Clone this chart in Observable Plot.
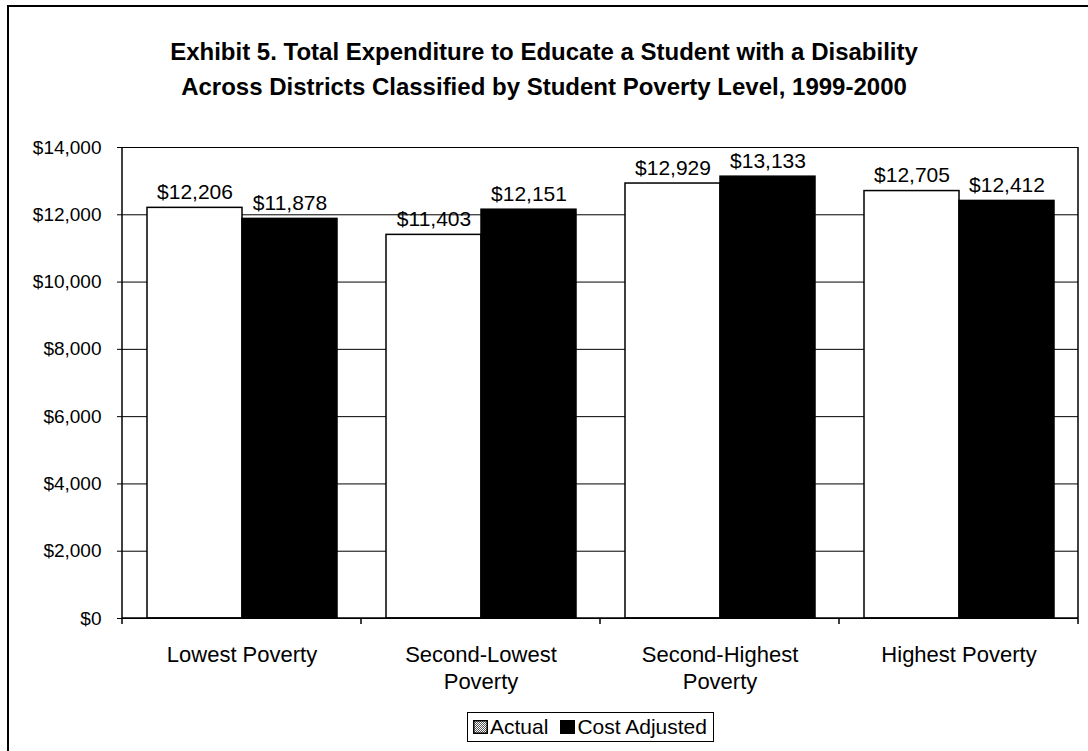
<!DOCTYPE html>
<html>
<head>
<meta charset="utf-8">
<script src="https://cdn.jsdelivr.net/npm/d3@7"></script>
<script src="https://cdn.jsdelivr.net/npm/@observablehq/plot@0.6"></script>
<style>
  html, body { margin: 0; padding: 0; background: #fff; }
  body { width: 1088px; height: 751px; position: relative; overflow: hidden; font-family: "Liberation Sans", Arial, sans-serif; color: #000; }
  #border { position: absolute; left: 7px; top: 5px; width: 1090px; height: 760px; border-top: 2px solid #000; border-left: 2px solid #000; }
  #title { position: absolute; left: 0; top: 34px; width: 1088px; text-align: center; font-weight: bold; font-size: 24px; line-height: 35px; }
  #chart { position: absolute; left: 0; top: 120px; }
  #legend { position: absolute; left: 467px; top: 712px; height: 28px; border: 1px solid #000; display: flex; align-items: center; padding: 0 6px 0 5px; font-size: 21px; }
  #legend .item { display: flex; align-items: center; }
  #legend svg { margin-right: 2px; }
</style>
</head>
<body>
<div id="border"></div>
<div id="title">Exhibit 5. Total Expenditure to Educate a Student with a Disability<br>Across Districts Classified by Student Poverty Level, 1999-2000</div>
<div id="chart"></div>
<div id="legend"></div>
<script>
// ---- data ----
const categories = ["Lowest Poverty", "Second-Lowest\nPoverty", "Second-Highest\nPoverty", "Highest Poverty"];
const seriesNames = ["Actual", "Cost Adjusted"];
const actual = [12206, 11403, 12929, 12705];
const costAdjusted = [11878, 12151, 13133, 12412];
const yTicks = [0, 2000, 4000, 6000, 8000, 10000, 12000, 14000];
const seriesColors = ["#ffffff", "#000000"];

const fmt = d3.format(",");
const data = categories.flatMap((c, i) => [
  {cat: c, series: seriesNames[0], value: actual[i]},
  {cat: c, series: seriesNames[1], value: costAdjusted[i]}
]);

const plot = Plot.plot({
  width: 1088,
  height: 580,
  marginTop: 27,
  marginBottom: 82,
  marginLeft: 121,
  marginRight: 10,
  style: {fontFamily: "'Liberation Sans', Arial, sans-serif", background: "transparent", color: "#000"},
  fx: {domain: categories, padding: 0, label: null},
  x: {domain: seriesNames, paddingInner: 0, paddingOuter: 0.245, axis: null},
  y: {domain: [0, 14000], label: null},
  color: {domain: seriesNames, range: seriesColors},
  marks: [
    Plot.gridY(yTicks, {stroke: "#000", strokeOpacity: 1, strokeWidth: 1}),
    Plot.barY(data, {fx: "cat", x: "series", y: "value", fill: "series", stroke: "#000", strokeWidth: 1.5}),
    Plot.text(data, {fx: "cat", x: "series", y: "value", text: d => "$" + fmt(d.value), lineAnchor: "bottom", dy: -9, fontSize: 21, fill: "#000"}),
    Plot.axisY(yTicks, {tickFormat: d => "$" + fmt(d), tickSize: 5, tickPadding: 16, fontSize: 19, label: null, stroke: "#000"}),
    Plot.axisFx({anchor: "bottom", tickSize: 0, tickPadding: 25, fontSize: 22, lineHeight: 1.2, label: null})
  ]
});

// frame edges and category boundary ticks, positioned from Plot's own scales
const fxS = plot.scale("fx");
const yS = plot.scale("y");
const svg = d3.select(plot);
const left = fxS.apply(categories[0]);
const right = fxS.apply(categories[categories.length - 1]) + fxS.bandwidth;
const y0 = yS.apply(0), yTop = yS.apply(14000);
const g = svg.append("g").attr("stroke", "#000").attr("stroke-width", 1.5);
g.append("line").attr("x1", left).attr("x2", left).attr("y1", yTop).attr("y2", y0);
g.append("line").attr("x1", right).attr("x2", right).attr("y1", yTop).attr("y2", y0);
g.append("line").attr("x1", left).attr("x2", right).attr("y1", y0).attr("y2", y0);
const edges = categories.map(c => fxS.apply(c)).concat([right]);
edges.forEach(x => g.append("line").attr("x1", x).attr("x2", x).attr("y1", y0).attr("y2", y0 + 6));

document.getElementById("chart").appendChild(plot);

// legend
const legend = d3.select("#legend");
seriesNames.forEach((name, i) => {
  const item = legend.append("div").attr("class", "item").style("margin-right", i === 0 ? "12px" : "0");
  const s = item.append("svg").attr("width", 15).attr("height", 14);
  if (i === 0) {
    const defs = s.append("defs");
    const p = defs.append("pattern").attr("id", "dither").attr("width", 2).attr("height", 2).attr("patternUnits", "userSpaceOnUse");
    p.append("rect").attr("width", 2).attr("height", 2).attr("fill", "#fff");
    p.append("rect").attr("width", 1).attr("height", 1).attr("fill", "#555");
    p.append("rect").attr("x", 1).attr("y", 1).attr("width", 1).attr("height", 1).attr("fill", "#555");
    s.append("rect").attr("x", 0.75).attr("y", 0.75).attr("width", 13.5).attr("height", 12.5).attr("fill", "url(#dither)").attr("stroke", "#000").attr("stroke-width", 1.5);
  } else {
    s.append("rect").attr("x", 0.75).attr("y", 0.75).attr("width", 13.5).attr("height", 12.5).attr("fill", seriesColors[i]).attr("stroke", "#000").attr("stroke-width", 1.5);
  }
  item.append("span").text(name);
});
</script>
</body>
</html>
